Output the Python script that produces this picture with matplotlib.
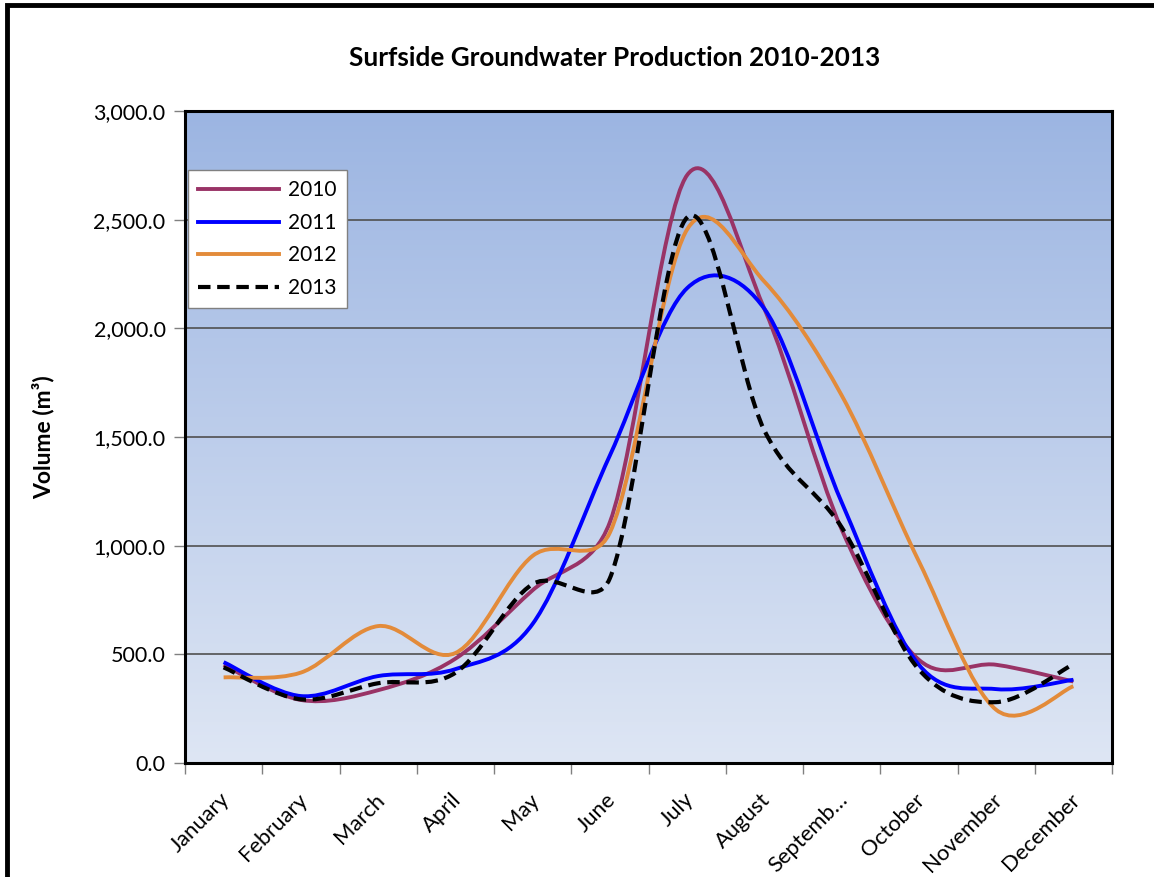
import numpy as np
import matplotlib
matplotlib.use("Agg")
import matplotlib.pyplot as plt
import matplotlib.transforms as mtransforms
from matplotlib.path import Path
from matplotlib.patches import PathPatch, Rectangle
from matplotlib.lines import Line2D
from matplotlib.colors import LinearSegmentedColormap

plt.rcParams['font.family'] = ['Lato', 'DejaVu Sans']

month_labels = ['January', 'February', 'March', 'April', 'May', 'June',
                'July', 'August', 'Septemb\u2026', 'October', 'November', 'December']

v2010 = [451, 290, 335, 480, 795, 1108, 2705, 2090, 1075, 475, 452, 375]
v2011 = [464, 308, 400, 432, 640, 1415, 2185, 2090, 1200, 452, 340, 383]
v2012 = [394, 416, 630, 506, 953, 1060, 2455, 2215, 1692, 928, 245, 353]
v2013 = [440, 293, 367, 415, 823, 850, 2510, 1530, 1085, 430, 280, 455]

series = [('2010', v2010, '#993366', '-'),
          ('2011', v2011, '#0000FF', '-'),
          ('2012', v2012, '#E38B3A', '-'),
          ('2013', v2013, '#000000', '--')]

W, H = 1154, 877
fig = plt.figure(figsize=(W / 100, H / 100), dpi=100)
ax = fig.add_axes([185 / W, 1 - 763 / H, 927 / W, 652 / H])
ax.set_xlim(0, 12)
ax.set_ylim(0, 3000)

# gradient background of the plot area
cmap = LinearSegmentedColormap.from_list('bg', ['#DEE6F4', '#9CB5E2'])
ax.imshow(np.linspace(0, 1, 256).reshape(-1, 1), cmap=cmap, origin='lower',
          extent=[0, 12, 0, 3000], aspect='auto', zorder=0)

for g in range(500, 3000, 500):
    ax.axhline(g, color='#505050', lw=1.2, zorder=1)

# pixel scale, distances for the Excel-like smoothing are measured on screen
sx = 927 / 12
sy = 652 / 3000


def smooth_path(xs, ys):
    # Excel style bezier: control arm = 1/6 of neighbour chord,
    # but never longer than half of the segment itself
    pts = np.column_stack([xs, ys]).astype(float)
    sc = np.array([sx, sy])
    n = len(pts)
    verts = [pts[0]]
    codes = [Path.MOVETO]
    for i in range(n - 1):
        p0 = pts[max(i - 1, 0)]
        p1 = pts[i]
        p2 = pts[i + 1]
        p3 = pts[min(i + 2, n - 1)]
        d12 = np.hypot(*((p2 - p1) * sc))
        d02 = np.hypot(*((p2 - p0) * sc))
        d13 = np.hypot(*((p3 - p1) * sc))
        f1 = 1 / 6 if d02 / 6 < d12 / 2 else d12 / 2 / d02
        f2 = 1 / 6 if d13 / 6 < d12 / 2 else d12 / 2 / d13
        c1 = p1 + (p2 - p0) * f1
        c2 = p2 - (p3 - p1) * f2
        verts += [c1, c2, p2]
        codes += [Path.CURVE4] * 3
    return Path(verts, codes)


x = np.arange(len(month_labels)) + 0.5
handles = []
for name, vals, col, ls in series:
    lw = 3.0 if ls == '--' else 2.8
    style = (0, (3, 1.6)) if ls == '--' else '-'
    patch = PathPatch(smooth_path(x, vals), fill=False, edgecolor=col, lw=lw,
                      linestyle=style, capstyle='butt', zorder=3)
    ax.add_patch(patch)
    handles.append(Line2D([], [], color=col, lw=lw, linestyle=style, label=name))

for s in ax.spines.values():
    s.set_linewidth(2.2)
    s.set_color('black')

ax.set_yticks(range(0, 3001, 500))
ax.set_yticklabels([f'{v:,.1f}' for v in range(0, 3001, 500)], fontsize=15.5)
ax.set_xticks(range(0, 13))
ax.set_xticklabels([])
ax.set_xticks(x, minor=True)
ax.set_xticklabels(month_labels, minor=True, rotation=45, ha='right',
                   rotation_mode='anchor', fontsize=15.8)
ax.tick_params(axis='both', which='major', direction='out', length=8,
               width=1, color='#808080', pad=6)
ax.tick_params(axis='x', which='minor', length=0, pad=19)
shift = mtransforms.ScaledTranslation(-4 / 100, 0, fig.dpi_scale_trans)
for lab in ax.get_xticklabels(minor=True):
    lab.set_transform(lab.get_transform() + shift)

ax.set_ylabel('Volume (m\u00b3)', fontsize=16.5, fontweight='bold', labelpad=28)
fig.text(615 / W, 1 - 58 / H, 'Surfside Groundwater Production 2010-2013',
         ha='center', va='center', fontsize=18.8, fontweight='bold')

leg = ax.legend(handles=handles, loc='upper left', bbox_to_anchor=(0.003, 0.9095),
                borderaxespad=0, fontsize=15, handlelength=3.9, handletextpad=0.4,
                labelspacing=0.6, fancybox=False, framealpha=1, edgecolor='#808080',
                borderpad=0.5)
leg.get_frame().set_linewidth(1)

# outer chart border (only left and top edges fall inside the picture)
fig.patches.append(Rectangle((6.5 / W, -0.5), 2, 0.5 + 1 - 5 / H,
                             transform=fig.transFigure, fill=False,
                             edgecolor='black', lw=3.5))

fig.savefig('out.png', dpi=100)
